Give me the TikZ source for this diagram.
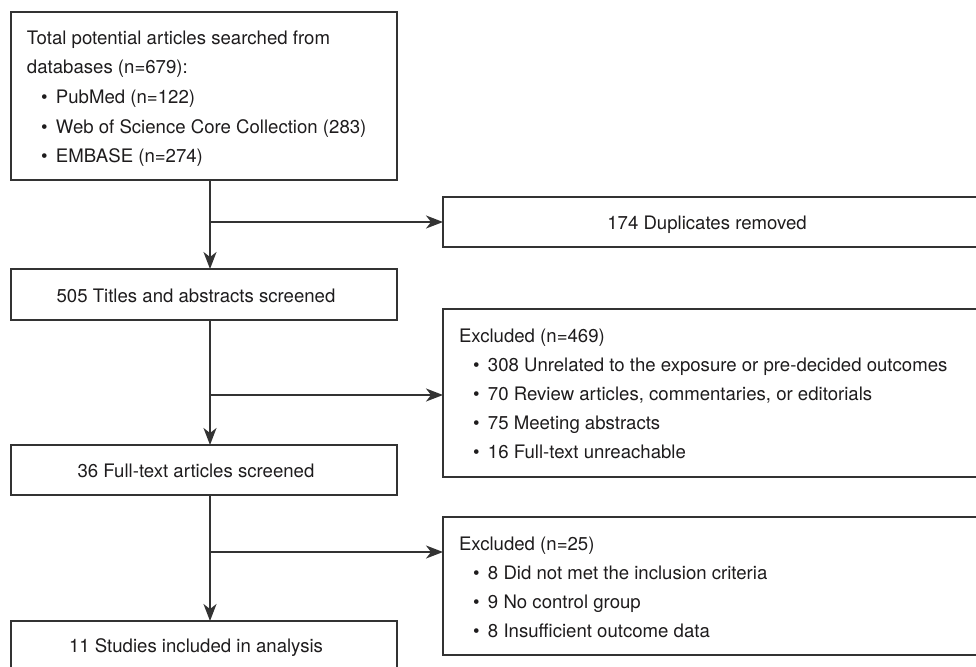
\documentclass[tikz,border=0pt]{standalone}
\usepackage{fontspec}
\setmainfont{TeX Gyre Heros}
\usetikzlibrary{arrows.meta}
\definecolor{ln}{HTML}{333333}
\definecolor{tx}{HTML}{1E1C1D}
\begin{document}
\begin{tikzpicture}[x=1pt,y=-1pt,
  box/.style={draw=ln, line width=1.7pt, inner sep=0pt, outer sep=0pt, anchor=north west},
  txt/.style={inner sep=0pt, outer sep=0pt, text=tx, font=\fontsize{18.6}{29}\selectfont},
  lt/.style={txt, anchor=base west},
  ct/.style={txt, anchor=base},
  arr/.style={draw=ln, line width=1.7pt, -{Stealth[length=17pt,width=13pt,inset=5pt]}},
  lnk/.style={draw=ln, line width=1.7pt}]
\useasboundingbox (0,0) rectangle (976,666);
\clip (0,0) rectangle (976,666);
\newcommand{\bul}[1]{\makebox[15pt][l]{\textbullet}#1}
% boxes
\node[box, minimum width=386pt, minimum height=168pt] (b1) at (11,12) {};
\node[box, minimum width=386pt, minimum height=51pt] (b2) at (11,269) {};
\node[box, minimum width=386pt, minimum height=50pt] (b3) at (11,445) {};
\node[box, minimum width=386pt, minimum height=50pt] (b4) at (11,621) {};
\node[box, minimum width=545pt, minimum height=50pt] (d1) at (443,197) {};
\node[box, minimum width=545pt, minimum height=168pt] (e1) at (443,309) {};
\node[box, minimum width=545pt, minimum height=138pt] (e2) at (443,517) {};
% texts
\node[lt] (b1t1) at (27,45) {Total potential articles searched from};
\node[lt] (b1t2) at (27,74) {databases (n=679):};
\node[lt] (b1t3) at (41,103) {\bul{PubMed (n=122)}};
\node[lt] (b1t4) at (41,133) {\bul{Web of Science Core Collection (283)}};
\node[lt] (b1t5) at (41,162) {\bul{EMBASE (n=274)}};
\node[ct] (b2t) at (196,302) {505 Titles and abstracts screened};
\node[ct] (b3t) at (196,477) {36 Full-text articles screened};
\node[ct] (b4t) at (196,652) {11 Studies included in analysis};
\node[ct] (d1t) at (707,229) {174 Duplicates removed};
\node[lt] (e1t1) at (459,342) {Excluded (n=469)};
\node[lt] (e1t2) at (473,371) {\bul{308 Unrelated to the exposure or pre-decided outcomes}};
\node[lt] (e1t3) at (473,400) {\bul{70 Review articles, commentaries, or editorials}};
\node[lt] (e1t4) at (473,429) {\bul{75 Meeting abstracts}};
\node[lt] (e1t5) at (473,458) {\bul{16 Full-text unreachable}};
\node[lt] (e2t1) at (459,550) {Excluded (n=25)};
\node[lt] (e2t2) at (473,579) {\bul{8 Did not met the inclusion criteria}};
\node[lt] (e2t3) at (473,608) {\bul{9 No control group}};
\node[lt] (e2t4) at (473,637) {\bul{8 Insufficient outcome data}};
% connectors
\coordinate (j1) at (210,222);
\coordinate (j2) at (210,395);
\coordinate (j3) at (210,552);
\draw[arr] (b1.south -| j1) -- (b2.north -| j1);
\draw[arr] (j1) -- (j1 -| d1.west);
\draw[arr] (b2.south -| j2) -- (b3.north -| j2);
\draw[arr] (j2) -- (j2 -| e1.west);
\draw[arr] (b3.south -| j3) -- (b4.north -| j3);
\draw[arr] (j3) -- (j3 -| e2.west);
\end{tikzpicture}
\end{document}
